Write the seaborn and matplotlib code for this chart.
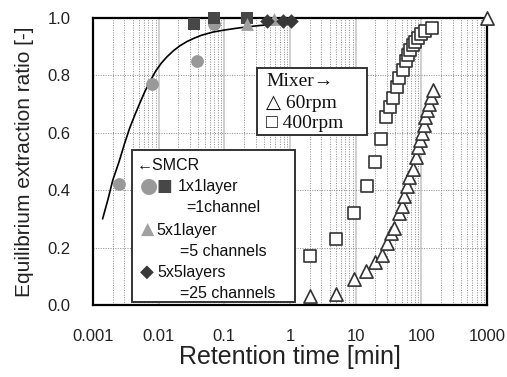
import numpy as np
import pandas as pd
import matplotlib
matplotlib.use('Agg')
import matplotlib.pyplot as plt
import matplotlib.ticker as mticker
from matplotlib.patches import Rectangle
import seaborn as sns

# ── Data ────────────────────────────────────────────────────────────────────
# SMCR 1x1 layer (circles + squares), 5x1 (triangles), 5x5 (diamonds)
circ_t = [0.0025, 0.0079, 0.038, 0.07]
circ_y = [0.42, 0.77, 0.85, 0.98]
sq_t = [0.035, 0.069, 0.22]
sq_y = [0.98, 1.0, 1.0]
tri_t = [0.22, 0.57]
tri_y = [0.98, 0.995]
dia_t = [0.45, 0.78, 1.05]
dia_y = [0.99, 0.99, 0.99]

# model curve for SMCR
fit_t = [0.0014, 0.0017, 0.002, 0.0025, 0.003, 0.0036, 0.0043, 0.0052, 0.0062, 0.0075,
         0.009, 0.011, 0.0134, 0.017, 0.021, 0.027, 0.035, 0.045, 0.067, 0.1, 0.15, 0.22,
         0.35, 0.6]
fit_y = [0.30, 0.37, 0.435, 0.50, 0.56, 0.615, 0.66, 0.705, 0.745, 0.782, 0.815, 0.843,
         0.865, 0.887, 0.903, 0.918, 0.93, 0.94, 0.951, 0.958, 0.964, 0.969, 0.974, 0.978]

# mixer 400 rpm (open squares)
m400_t = [2, 5, 9.5, 15, 20, 24, 29, 33, 37, 42, 46, 52, 58, 63, 68, 74, 80, 88, 100, 115, 145]
m400_y = [0.17, 0.23, 0.32, 0.415, 0.50, 0.58, 0.655, 0.69, 0.72, 0.76, 0.79, 0.82, 0.85,
          0.87, 0.89, 0.905, 0.915, 0.93, 0.945, 0.955, 0.965]

# mixer 60 rpm (open triangles)
m60_t = [2, 5, 9.5, 14.5, 20, 25, 30, 35, 38, 45, 50, 55, 60, 66, 74, 82, 88, 95, 102,
         108, 115, 122, 130, 140, 150, 1000]
m60_y = [0.03, 0.04, 0.09, 0.12, 0.15, 0.175, 0.215, 0.25, 0.27, 0.32, 0.345, 0.38, 0.415,
         0.445, 0.475, 0.515, 0.55, 0.575, 0.60, 0.627, 0.655, 0.68, 0.70, 0.725, 0.75, 1.0]

xticks = [0.001, 0.01, 0.1, 1, 10, 100, 1000]
xtick_labels = ['0.001', '0.01', '0.1', '1', '10', '100', '1000']
yticks = [0.0, 0.2, 0.4, 0.6, 0.8, 1.0]

# ── Style ───────────────────────────────────────────────────────────────────
sns.set_style('white')
plt.rcParams['font.family'] = ['Liberation Sans', 'DejaVu Sans']

fig = plt.figure(figsize=(5.07, 3.77), dpi=100)
ax = fig.add_axes([93 / 507, 72 / 377, 394 / 507, 287 / 377])
ax.set_xscale('log')

# ── Marks ───────────────────────────────────────────────────────────────────
sns.lineplot(data=pd.DataFrame({'t': fit_t, 'y': fit_y}), x='t', y='y', sort=False,
             estimator=None, color='black', lw=1.2, ax=ax, zorder=3)
sns.scatterplot(data=pd.DataFrame({'t': m400_t, 'y': m400_y}), x='t', y='y', marker='s',
                s=70, facecolor='white', edgecolor='#333333', linewidth=1.2, ax=ax,
                zorder=4, clip_on=False)
sns.scatterplot(data=pd.DataFrame({'t': m60_t, 'y': m60_y}), x='t', y='y', marker='^',
                s=90, facecolor='white', edgecolor='#333333', linewidth=1.2, ax=ax,
                zorder=4, clip_on=False)
sns.scatterplot(data=pd.DataFrame({'t': circ_t, 'y': circ_y}), x='t', y='y', marker='o',
                s=85, color='#999999', linewidth=0, ax=ax, zorder=5, clip_on=False)
sns.scatterplot(data=pd.DataFrame({'t': sq_t, 'y': sq_y}), x='t', y='y', marker='s',
                s=85, color='#474747', linewidth=0, ax=ax, zorder=6, clip_on=False)
sns.scatterplot(data=pd.DataFrame({'t': tri_t, 'y': tri_y}), x='t', y='y', marker='^',
                s=85, color='#a0a0a0', linewidth=0, ax=ax, zorder=7, clip_on=False)
sns.scatterplot(data=pd.DataFrame({'t': dia_t, 'y': dia_y}), x='t', y='y', marker='D',
                s=55, color='#383838', linewidth=0, ax=ax, zorder=7, clip_on=False)

# ── Axes ────────────────────────────────────────────────────────────────────
ax.set_xlim(0.001, 1000)
ax.set_ylim(0, 1.0)
ax.set_xticks(xticks)
ax.set_xticklabels(xtick_labels)
ax.xaxis.set_minor_locator(mticker.LogLocator(base=10, subs=np.arange(2, 10)))
ax.xaxis.set_minor_formatter(mticker.NullFormatter())
ax.set_yticks(yticks)
ax.yaxis.set_major_formatter(mticker.FormatStrFormatter('%.1f'))
ax.tick_params(axis='both', which='both', length=0, labelsize=12, colors='#222222')
ax.tick_params(axis='x', pad=17)
ax.tick_params(axis='y', pad=16)

ax.grid(True, axis='x', which='major', color='#c4c4c4', lw=1.1, ls='-')
ax.grid(True, axis='x', which='minor', color='#8a8a8a', lw=0.7, ls=(0, (1, 1.5)))
ax.grid(True, axis='y', which='major', color='#8a8a8a', lw=0.7, ls=(0, (1, 1.5)))
ax.set_axisbelow(True)
for sp in ax.spines.values():
    sp.set_color('black')
    sp.set_linewidth(1.6)

ax.set_xlabel('Retention time [min]', fontsize=18, labelpad=1, color='#222222')
ax.set_ylabel('Equilibrium extraction ratio [-]', fontsize=15, labelpad=10, color='#222222')


# ── In-plot legends (pixel layout -> axes fraction) ────────────────────────
def axp(px, py):
    return ((px - 93) / 394, (305 - py) / 287)


def box(x0, y0, x1, y1):
    (ax0, ay0), (ax1, ay1) = axp(x0, y1), axp(x1, y0)
    ax.add_patch(Rectangle((ax0, ay0), ax1 - ax0, ay1 - ay0, transform=ax.transAxes,
                           facecolor='white', edgecolor='#333333', lw=1.4, zorder=8))


def txt(px, py, s, color='#111111', size=11.5, **kw):
    x, y = axp(px, py)
    ax.text(x, y, s, transform=ax.transAxes, ha='left', va='center', color=color,
            fontsize=size, zorder=9, **kw)


box(132, 150, 295, 302)
txt(137, 165, '←SMCR')
txt(140, 186, '●', color='#999999', size=15, family=['DejaVu Sans'])
txt(157, 186, '■', color='#474747', size=12, family=['DejaVu Sans'])
txt(178, 186, '1x1layer')
txt(186, 208, '=1channel')
txt(141, 230, '▲', color='#a0a0a0', size=12.5, family=['DejaVu Sans'])
txt(156, 230, '5x1layer')
txt(180, 251, '=5 channels')
txt(140, 272, '◆', color='#383838', size=13, family=['DejaVu Sans'])
txt(157, 272, '5x5layers')
txt(180, 293, '=25 channels')

serif = ['Liberation Serif', 'DejaVu Serif']
box(257, 68, 367, 135)
txt(266, 82, 'Mixer→', size=14, family=serif)
txt(266, 103, '△ 60rpm', size=14, family=serif)
txt(266, 123, '□ 400rpm', size=14, family=serif)

fig.savefig('out.png', dpi=100)
plt.close(fig)
